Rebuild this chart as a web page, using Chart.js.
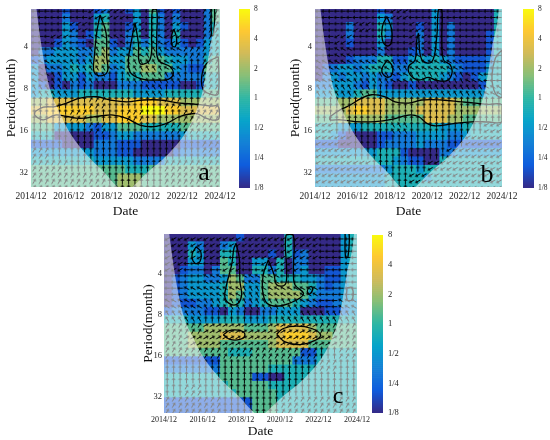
<!DOCTYPE html>
<html><head><meta charset="utf-8"><title>Wavelet coherence a b c</title>
<script src="https://cdn.jsdelivr.net/npm/chart.js@4.4.1/dist/chart.umd.min.js"></script>
<style>
html,body{margin:0;padding:0;background:#fff;}
#fig{position:relative;width:550px;height:440px;overflow:hidden;background:#fff;}
.box{position:absolute;}
</style></head><body>
<div id="fig">
 <div class="box" style="left:0px;top:0px;width:240px;height:220px"><canvas id="chartA"></canvas></div>
 <div class="box" style="left:284px;top:0px;width:238px;height:220px"><canvas id="chartB"></canvas></div>
 <div class="box" style="left:137px;top:225px;width:240px;height:215px"><canvas id="chartC"></canvas></div>
 <div class="box" style="left:239px;top:0px;width:34px;height:200px"><canvas id="barA"></canvas></div>
 <div class="box" style="left:523px;top:0px;width:34px;height:200px"><canvas id="barB"></canvas></div>
 <div class="box" style="left:372px;top:225px;width:36px;height:200px"><canvas id="barC"></canvas></div>
</div>
<script>
// ---------- axis ticks ----------
const xTickYears  = [2014.917, 2016.917, 2018.917, 2020.917, 2022.917, 2024.917];
const xTickLabels = ['2014/12','2016/12','2018/12','2020/12','2022/12','2024/12'];
const yTickPeriods = [4, 8, 16, 32];
const yTickLabels  = ['4','8','16','32'];
const cbTickLevels = [-3,-2,-1,0,1,2,3];
const cbTickLabels = ['1/8','1/4','1/2','1','2','4','8'];

// ---------- cone of influence (year, period in months) ----------
const coiYears   = [2014.92,2015.22,2015.48,2015.92,2016.40,2016.92,2017.90,2018.83,2019.46,2019.90,2020.31,2021.04,2022.10,2023.15,2023.60,2024.02,2024.39,2024.74,2024.92];
const coiPeriods = [1.0,2.2,4,8,11.5,16,24,32,40,44,40,32,24,16,12,8,4,2.2,1.0];

// ---------- wavelet power levels (0..9 => 1/8 .. 8, rows: period 2 -> 40, cols: 2014/12 -> 2024/12) ----------
const heatA = [
"000010001200130510100025",
"000020003400030420200025",
"000031004500130420310024",
"000032014500240420400024",
"000132105510242421310134",
"022333225623354532222234",
"123333236633555554332245",
"302234346523556655321155",
"300133132213445552222244",
"310102120002221111100144",
"344333444444433334444455",
"667777777777788877766666",
"778888887778889998877777",
"667777766778887766666666",
"555333321335554444455555",
"444000001123322222234444",
"111100002221110000011111",
"333333332221100000122222",
"444444443333322224444444",
"555555555555444555555555",
"555555555556665555555555",
"555555555556665555555555"];
const heatB = [
"000000001000000300000004",
"000000003200000300000004",
"000020004300010302000004",
"000020004200020302000014",
"000010003000020302000014",
"000000002000120302000014",
"000012224411343432111124",
"012332344422444443211134",
"023233232213444432101344",
"223332132100100000000144",
"334334553333333333333344",
"555667777666667777655555",
"666678877666677777666666",
"555666666555557776655555",
"444333444444444433344444",
"443100001122233332234444",
"111000001222232221111111",
"333333334441000022333333",
"444444444432110044444444",
"222222222344434444444444",
"333333333444443444444444",
"333333333444444444444444"];
const heatC = [
"000000000100000400000034",
"000320023000000400000034",
"000430044000010412000034",
"000330054003304022000034",
"001220255004424023001134",
"012332236522554443321134",
"012333346633566655421234",
"012333346533566665322234",
"011122345423455543211233",
"122221103200223330001123",
"444333344433344444444444",
"555556666655567777655555",
"555666677766667888766555",
"555666655555567777555555",
"555555554445555551144444",
"111111155555555522244444",
"222222255555544444444444",
"444444455551100444444444",
"444444445555544444444444",
"444444444555554444444444",
"111111111115554444444444",
"111111111115554444444444"];

// ---------- phase arrows (a..l => 0..330 deg, 30 deg steps; rows period 2 -> 37, cols one year) ----------
const phaseA = ["ggghhgghgc","gghgghghgc","ghgffgfhgc","gffeffefcc","ffeefeefdc","feeedeeedc","eeddddeddc",
                "dddcdddcdc","ddcddcddcc","dddcdddccc","dddddddddc","cddddddddc","ccdddddccc","ccccdddccc"];
const phaseB = ["gggghggggg","gghgghgggg","ghggghgggg","gfgfgffggg","ffffefffgg","ffeefeeefg","eeeddeeeef",
                "dddddddddd","dddddddddd","hdddeddddh","hhddddddhh","hhdddddhhh","hhhdddhhhh","hhhhdhhhhh"];
const phaseC = ["hhhhhhhhgg","hhhghhhhgg","hgghghhggg","ggfgffgggg","gfffefffgg","ffeeeeefgf","eeddddeeee",
                "ccbbbbbbcc","cbbbbbbbbc","ccccccccdc","ddddddddcd","dddddddddd","dcdddddddd","cccdddcccc"];

// ---------- significance contours (year, period) ----------
const sigA = [
 [[2015.13,11.6],[2015.57,10.8],[2016.19,10.7],[2016.80,10.1],[2017.51,9.3],[2018.39,9.1],[2019.10,9.6],[2019.98,9.9],[2020.86,9.6],[2021.74,9.6],[2022.80,10.1],[2023.68,10.3],[2024.39,10.6],[2024.83,10.7],[2024.83,13.2],[2024.21,13.0],[2023.68,12.0],[2022.80,12.6],[2022.10,14.1],[2021.39,14.9],[2020.68,14.5],[2019.98,13.0],[2019.27,12.3],[2018.57,12.5],[2017.51,13.0],[2016.80,12.6],[2016.19,12.3],[2015.57,13.3],[2015.13,12.4]],
 [[2018.57,2.36],[2018.89,3.19],[2018.92,4.69],[2018.96,6.0],[2018.57,6.45],[2018.25,6.0],[2018.27,4.69],[2018.39,3.19]],
 [[2020.42,2.68],[2020.60,3.76],[2020.68,5.24],[2021.21,4.95],[2021.30,3.19],[2021.35,2.17],[2021.57,2.17],[2021.57,3.56],[2021.65,4.95],[2022.27,5.53],[2022.45,6.18],[2022.18,6.82],[2021.57,6.9],[2021.04,6.9],[2020.51,6.6],[2020.15,6.01],[2020.07,4.95],[2020.24,3.56]],
 [[2022.48,2.99],[2022.62,3.47],[2022.55,3.98],[2022.38,3.9],[2022.36,3.3]],
 [[2024.83,4.69],[2024.21,5.24],[2023.95,6.53],[2024.04,8.13],[2024.56,8.83],[2024.83,8.6]],
 [[2024.45,2.1],[2024.62,2.1],[2024.58,3.3],[2024.47,3.3]]
];
const sigB = [
 [[2015.72,12.6],[2016.26,11.3],[2016.70,10.6],[2017.42,9.3],[2017.95,8.8],[2018.67,9.1],[2019.20,9.9],[2019.92,10.1],[2020.63,9.6],[2021.70,9.6],[2022.77,9.9],[2023.49,10.1],[2024.20,10.3],[2024.92,10.4],[2024.92,13.7],[2024.20,13.8],[2023.49,13.7],[2022.42,14.1],[2021.35,14.7],[2020.90,14.1],[2020.45,12.6],[2019.92,12.3],[2019.02,13.2],[2018.13,13.7],[2017.06,13.7],[2016.26,13.3],[2015.72,13.3]],
 [[2018.76,2.42],[2019.02,3.02],[2018.99,3.76],[2018.76,3.93],[2018.52,3.56],[2018.52,2.86]],
 [[2018.79,4.95],[2019.06,5.53],[2018.99,6.45],[2018.70,6.53],[2018.49,5.82]],
 [[2020.45,3.19],[2020.63,4.95],[2021.17,5.1],[2021.43,3.37],[2021.52,2.17],[2021.70,2.17],[2021.70,3.56],[2021.79,4.95],[2022.15,5.38],[2022.24,6.18],[2021.97,6.97],[2021.35,6.9],[2020.99,6.6],[2020.45,6.9],[2020.01,6.35],[2019.92,5.53],[2020.27,4.95],[2020.36,3.56]],
 [[2024.92,4.2],[2024.56,4.82],[2024.38,6.53],[2024.56,8.6],[2024.92,9.08]]
];
const sigC = [
 [[2016.58,2.53],[2016.82,2.75],[2016.78,3.25],[2016.52,3.34],[2016.37,2.9]],
 [[2018.65,2.39],[2018.82,3.07],[2018.85,4.54],[2018.94,5.68],[2018.77,6.54],[2018.42,6.72],[2018.08,6.01],[2018.16,4.8],[2018.42,3.44],[2018.54,2.6]],
 [[2020.32,3.16],[2020.62,4.06],[2020.75,4.8],[2021.19,4.8],[2021.27,3.84],[2021.24,2.08],[2021.62,2.08],[2021.62,3.84],[2021.70,4.8],[2022.14,5.53],[2021.96,6.01],[2021.45,6.54],[2020.75,6.91],[2020.24,6.54],[2020.03,5.38],[2020.06,4.06]],
 [[2022.57,4.94],[2022.62,5.23],[2022.45,5.62],[2022.34,5.38],[2022.45,5.0]],
 [[2017.99,11.2],[2018.34,10.4],[2018.85,10.4],[2019.11,11.2],[2018.85,12.1],[2018.34,12.1]],
 [[2020.75,11.1],[2021.10,10.06],[2021.79,9.67],[2022.57,10.06],[2023.03,11.2],[2022.74,12.3],[2021.96,13.2],[2021.19,12.6]],
 [[2024.40,5.05],[2024.66,5.05],[2024.66,6.18],[2024.40,6.18]],
 [[2024.30,2.0],[2024.50,2.0],[2024.45,3.0],[2024.32,3.0]]
];

// ---------- helpers ----------
const FONT = '"Liberation Serif", "DejaVu Serif", serif';
Chart.defaults.color = '#111';
Chart.defaults.font.family = FONT;
const X0 = xTickYears[0], X1 = xTickYears[xTickYears.length-1];
const parulaStops = [[53,42,135],[15,92,221],[20,129,214],[6,164,202],[46,183,164],[135,191,119],[209,187,89],[254,200,50],[249,251,14]];
function parula(t){
  t = Math.max(0, Math.min(1, t));
  const s = t*8, i = Math.min(7, Math.floor(s)), f = s - i, a = parulaStops[i], b = parulaStops[i+1];
  return 'rgb(' + Math.round(a[0]+(b[0]-a[0])*f) + ',' + Math.round(a[1]+(b[1]-a[1])*f) + ',' + Math.round(a[2]+(b[2]-a[2])*f) + ')';
}
function makeArrow(){
  const c = document.createElement('canvas'); c.width = 7; c.height = 7;
  const g = c.getContext('2d');
  g.strokeStyle = '#000'; g.lineWidth = 0.95; g.lineCap = 'round'; g.lineJoin = 'round';
  g.beginPath(); g.moveTo(1.0,3.5); g.lineTo(6.0,3.5);
  g.moveTo(4.3,2.1); g.lineTo(6.0,3.5); g.lineTo(4.3,4.9); g.stroke();
  return c;
}
const ARROW = makeArrow();
const DIRCH = 'abcdefghijkl';

const letterPlugin = {
  id: 'letter',
  afterDraw(chart, args, o){
    if (!o || !o.text) return;
    const {ctx, chartArea: a} = chart;
    ctx.save();
    ctx.font = o.size + 'px ' + FONT; ctx.fillStyle = '#000';
    ctx.textAlign = 'center'; ctx.textBaseline = 'alphabetic';
    ctx.fillText(o.text, a.right + o.dx, a.bottom + o.dy);
    ctx.restore();
  }
};

function buildPanel(id, heat, phase, sig, L){
  const ncol = heat[0].length, nrow = heat.length, dx = (X1 - X0)/ncol;
  const datasets = [];
  // COI wash (top)
  datasets.push({
    type:'line', order:1,
    data: coiYears.map((x,i)=>({x, y: Math.log2(coiPeriods[i])})),
    fill:'start', backgroundColor:'rgba(255,255,255,0.52)', borderWidth:0, pointRadius:0,
    cubicInterpolationMode:'monotone'
  });
  // contours
  sig.forEach(loop=>{
    const pts = loop.concat([loop[0]]).map(p=>({x:p[0], y:Math.log2(p[1])}));
    datasets.push({type:'scatter', order:2, showLine:true, data:pts, borderColor:'#000', borderWidth:1.3,
      pointRadius:0, tension:0.4, fill:false});
  });
  // arrows
  const arr = [];
  for (let r = 0; r < 29; r++){
    const k = Math.min(phase.length-1, Math.floor(r/2));
    for (let c = 0; c < 30; c++){
      const m = Math.min(phase[0].length-1, Math.floor(c/3));
      arr.push({x: X0 + (c+0.5)/3, y: 1.15 + 0.15*r, a: DIRCH.indexOf(phase[k][m])*30});
    }
  }
  datasets.push({type:'scatter', order:3, data:arr, pointStyle:ARROW, pointRadius:3,
    rotation: ctx => ctx.raw ? -ctx.raw.a : 0});
  // heat cells
  for (let i = 0; i < nrow; i++){
    const lo = 1.0 + 0.2*i, hi = lo + 0.2;
    const row = heat[i];
    datasets.push({type:'bar', order:4,
      data: Array.from(row).map((ch,j)=>({x: X0 + (j+0.5)*dx, y:[lo,hi]})),
      backgroundColor: Array.from(row).map(ch => parula(parseInt(ch,10)/9)),
      borderWidth:0, barPercentage:1, categoryPercentage:1});
  }
  return new Chart(document.getElementById(id), {
    type:'bar',
    data:{datasets},
    plugins:[letterPlugin],
    options:{
      responsive:true, maintainAspectRatio:false, animation:false, events:[],
      layout:{padding:L.pad},
      plugins:{legend:{display:false}, tooltip:{enabled:false}, letter:L.letter},
      scales:{
        x:{type:'linear', min:X0, max:X1, offset:false, stacked:true,
           grid:{display:false, drawTicks:false}, border:{display:false},
           afterBuildTicks: s => { s.ticks = xTickYears.map(v=>({value:v})); },
           ticks:{autoSkip:false, maxRotation:0, padding:L.xPad, font:{size:L.xFont, family:FONT}, color:'#222',
                  callback:(v,i)=>xTickLabels[i]},
           title:{display:true, text:'Date', font:{size:L.tFont, family:FONT}, padding:0, color:'#111'},
           afterFit: s => { s.height = L.xH; }},
        y:{type:'linear', reverse:true, min:Math.log2(L.pMin), max:Math.log2(L.pMax),
           grid:{display:false, drawTicks:false}, border:{display:false},
           afterBuildTicks: s => { s.ticks = yTickPeriods.map(p=>({value:Math.log2(p)})); },
           ticks:{autoSkip:false, padding:L.yPad, font:{size:L.yFont, family:FONT}, color:'#222',
                  callback:(v,i)=>yTickLabels[i]},
           title:{display:true, text:'Period(month)', font:{size:L.tFont, family:FONT}, padding:0, color:'#111'},
           afterFit: s => { s.width = L.yW; }}
      }
    }
  });
}

function buildColorbar(id, L){
  const N = 90, datasets = [];
  for (let k = 0; k < N; k++){
    const lo = -3 + 6*k/N, hi = -3 + 6*(k+1)/N;
    datasets.push({data:[[lo,hi]], backgroundColor: parula((k+0.5)/N), borderWidth:0,
      barPercentage:1, categoryPercentage:1});
  }
  return new Chart(document.getElementById(id), {
    type:'bar',
    data:{labels:['cb'], datasets},
    options:{
      responsive:true, maintainAspectRatio:false, animation:false, events:[],
      layout:{padding:{top:9, bottom:12, left:0, right:0}},
      plugins:{legend:{display:false}, tooltip:{enabled:false}},
      scales:{
        x:{display:false, stacked:true},
        y:{position:'right', min:-3, max:3, grid:{display:false, drawTicks:false}, border:{display:false},
           afterBuildTicks: s => { s.ticks = cbTickLevels.map(v=>({value:v})); },
           ticks:{autoSkip:false, padding:L.pad, font:{size:L.font, family:FONT}, color:'#222',
                  callback:(v,i)=>cbTickLabels[i]},
           afterFit: s => { s.width = L.w; }}
      }
    }
  });
}

const LAB = {pad:{left:3, top:9, right:20, bottom:0}, yW:28, xH:33, xPad:4, yPad:3, xFont:9.5, yFont:8.5, tFont:13.5, pMin:2.14, pMax:40.3};
buildPanel('chartA', heatA, phaseA, sigA, Object.assign({}, LAB, {letter:{text:'a', size:26, dx:-16, dy:-7}}));
buildPanel('chartB', heatB, phaseB, sigB, Object.assign({}, LAB, {letter:{text:'b', size:26, dx:-15, dy:-5}}));
buildPanel('chartC', heatC, phaseC, sigC, {pad:{left:3, top:9, right:20, bottom:0}, yW:24, xH:27, xPad:2, yPad:2, xFont:8, yFont:8.5, tFont:13.5, pMin:2.04, pMax:41.9, letter:{text:'c', size:24, dx:-19, dy:-10}});
buildColorbar('barA', {w:23, pad:4, font:7.5});
buildColorbar('barB', {w:23, pad:4, font:7.5});
buildColorbar('barC', {w:25, pad:5, font:8.5});
</script>
</body></html>
